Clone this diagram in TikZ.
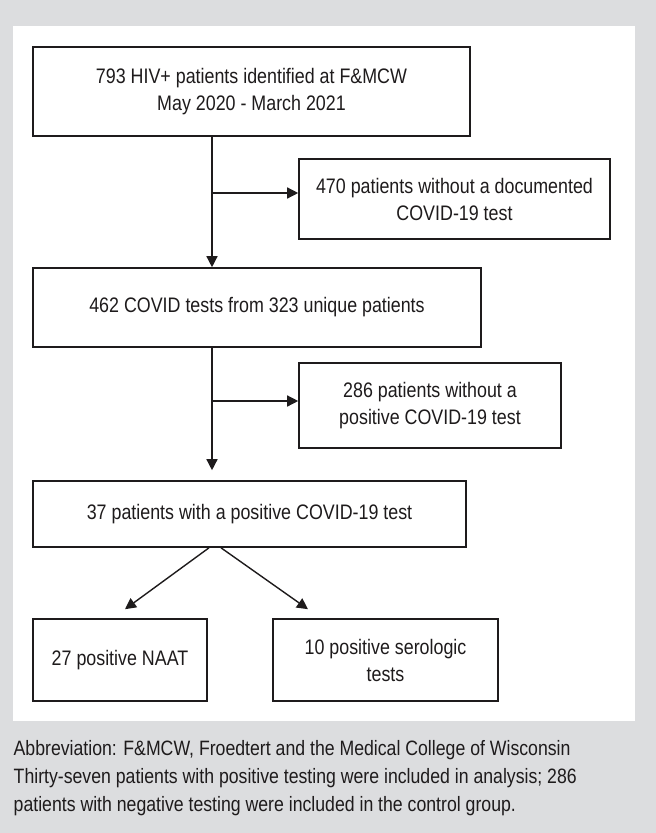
\documentclass[tikz,border=0pt]{standalone}
\usepackage{fontspec}
\setmainfont[FakeStretch=0.85]{Liberation Sans}
\usetikzlibrary{arrows.meta,positioning,calc}
\definecolor{panelgray}{HTML}{DCDDDF}
\definecolor{inkgray}{HTML}{1E1B1C}
\tikzset{flowbox/.style={draw=inkgray, line width=1.6pt, rectangle, inner sep=0pt, align=center, text=inkgray, font=\fontsize{21}{27}\selectfont}}
\tikzset{notetext/.style={inner sep=0pt, anchor=base west, text=inkgray, font=\fontsize{20.8}{24}\selectfont}}

\begin{document}
\begin{tikzpicture}[x=1pt, y=-1pt, >={Triangle[length=11pt,width=11pt]}, line width=1.4pt, draw=inkgray]
\fill[panelgray] (0,0) rectangle (656,833);
\fill[white] (13,26) rectangle (635,721);
\useasboundingbox (0,0) rectangle (656,833);
% main column
\node[flowbox, minimum width=437pt, minimum height=89pt] (B1) at (251.5,91.5) {793 HIV+ patients identified at F\&MCW\\May 2020 - March 2021};
\node[flowbox, minimum width=448pt, minimum height=79pt] (B2) at (257,307.5) {462 COVID tests from 323 unique patients};
\node[flowbox, minimum width=433pt, minimum height=66pt] (B3) at (249.5,514) {37 patients with a positive COVID-19 test};
% side boxes
\node[flowbox, minimum width=311pt, minimum height=80pt] (R1) at (454.5,199) {470 patients without a documented\\COVID-19 test};
\node[flowbox, minimum width=262pt, minimum height=85pt] (R2) at (430,405.5) {286 patients without a\\positive COVID-19 test};
% bottom row
\node[flowbox, minimum width=174pt, minimum height=82pt] (NAAT) at (120,660) {27 positive NAAT};
\node[flowbox, minimum width=225pt, minimum height=82pt] (SERO) at (385.5,660) {10 positive serologic\\tests};
\coordinate (J1) at (212,193);
\coordinate (J2) at (212,401);
\draw[->] (B1.south -| J1) -- (B2.north -| J1);
\draw[->] (J1) -- (R1.west |- J1);
\draw[->, shorten >=10pt] (B2.south -| J2) -- (B3.north -| J2);
\draw[->] (J2) -- (R2.west |- J2);
\draw[->] ([xshift=-40.5pt]B3.south) -- ([xshift=5pt,yshift=9pt]NAAT.north);
\draw[->] ([xshift=-28.5pt]B3.south) -- ([xshift=-77.5pt,yshift=9pt]SERO.north);
% note below the panel
\node[notetext] (N1) at (13,755) {Abbreviation: F\&MCW, Froedtert and the Medical College of Wisconsin};
\node[notetext] (N2) at (13,783) {Thirty-seven patients with positive testing were included in analysis; 286};
\node[notetext] (N3) at (13,811) {patients with negative testing were included in the control group.};
\end{tikzpicture}
\end{document}
